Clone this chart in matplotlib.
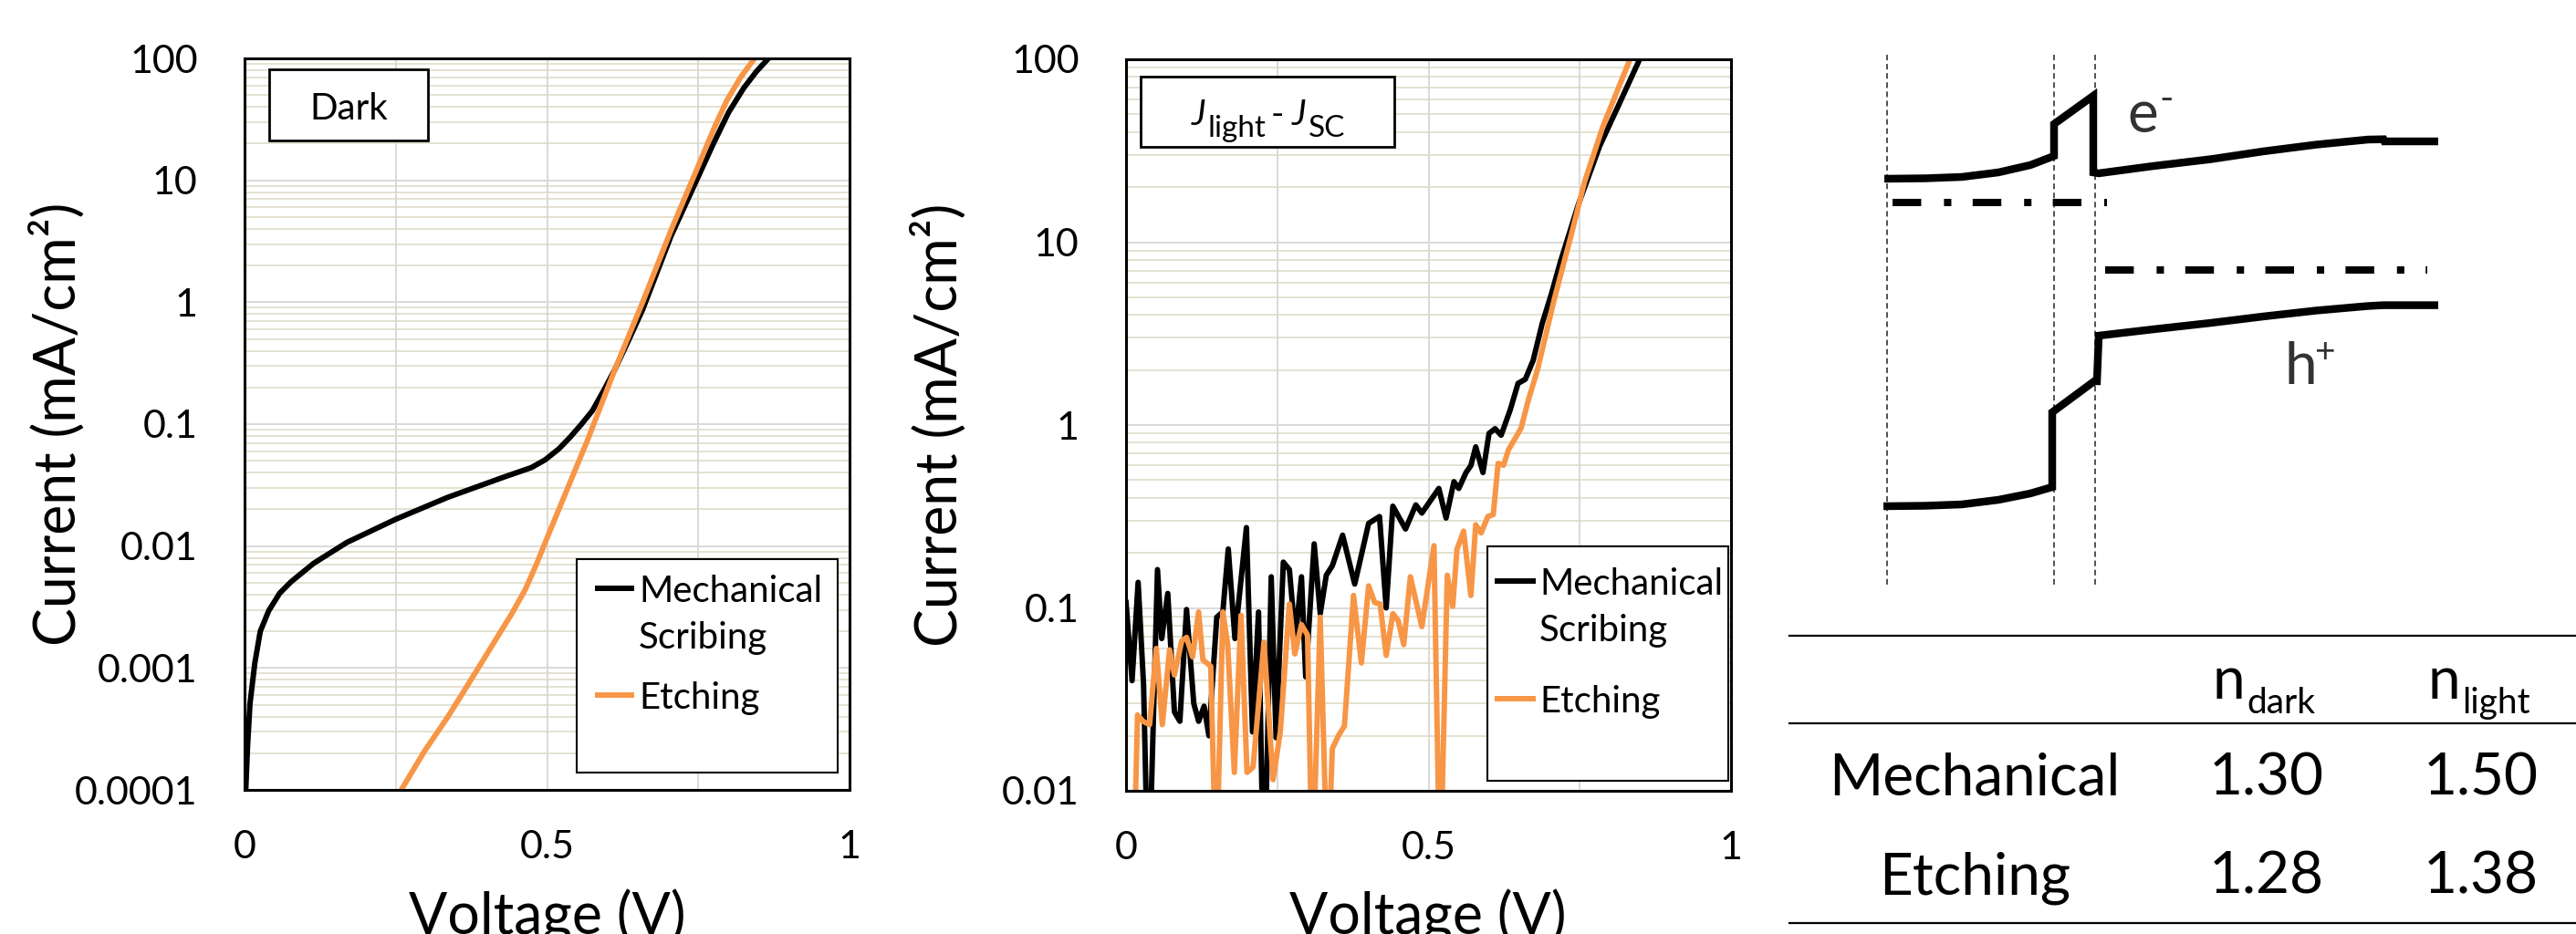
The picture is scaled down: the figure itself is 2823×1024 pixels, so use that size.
import numpy as np
import matplotlib
matplotlib.use('Agg')
import matplotlib.pyplot as plt
from matplotlib.patches import Rectangle
from matplotlib.ticker import LogLocator, NullFormatter

plt.rcParams['font.family'] = ['Lato', 'DejaVu Sans']

W, H = 2823, 1024
BLACK = '#000000'
ORANGE = '#F79646'

# ---- dark J-V, current density in mA/cm2 ----
v_dark_mech = [0.002, 0.005, 0.009, 0.017, 0.026, 0.040, 0.058, 0.077, 0.114, 0.169, 0.250,
               0.335, 0.430, 0.474, 0.497, 0.520, 0.538, 0.557, 0.575, 0.594, 0.612, 0.635,
               0.658, 0.705, 0.751, 0.775, 0.800, 0.825, 0.846, 0.866]
j_dark_mech = [1.0e-4, 2.3e-4, 5.1e-4, 1.1e-3, 2.0e-3, 2.95e-3, 4.1e-3, 5.1e-3, 7.2e-3, 1.07e-2, 1.66e-2,
               2.5e-2, 3.7e-2, 4.4e-2, 5.1e-2, 6.3e-2, 7.8e-2, 0.10, 0.129, 0.19, 0.28, 0.49,
               0.87, 3.5, 11.0, 20.0, 36.0, 57.0, 78.0, 100.0]

v_dark_etch = [0.259, 0.298, 0.335, 0.363, 0.390, 0.418, 0.441, 0.464, 0.483, 0.497, 0.529,
               0.566, 0.612, 0.658, 0.705, 0.751, 0.775, 0.797, 0.820, 0.843]
j_dark_etch = [1.0e-4, 2.1e-4, 3.9e-4, 6.5e-4, 1.07e-3, 1.8e-3, 2.75e-3, 4.4e-3, 7.2e-3, 1.07e-2, 2.6e-2,
               7.2e-2, 0.28, 1.0, 3.9, 13.5, 26.0, 45.0, 70.0, 100.0]

# ---- J_light - J_SC ----
v_light_mech = [0.000, 0.010, 0.020, 0.029, 0.037, 0.052, 0.059, 0.069, 0.080, 0.089, 0.100,
                0.112, 0.120, 0.129, 0.137, 0.150, 0.160, 0.169, 0.180, 0.199, 0.209, 0.219,
                0.228, 0.240, 0.248, 0.260, 0.270, 0.280, 0.290, 0.297, 0.311, 0.321, 0.331,
                0.341, 0.358, 0.378, 0.401, 0.419, 0.430, 0.441, 0.462, 0.479, 0.489, 0.517,
                0.529, 0.542, 0.550, 0.562, 0.570, 0.578, 0.590, 0.600, 0.610, 0.620, 0.635,
                0.648, 0.660, 0.673, 0.688, 0.703, 0.718, 0.748, 0.783, 0.813, 0.849]
j_light_mech = [0.107, 0.040, 0.138, 0.038, 0.0025, 0.162, 0.068, 0.12, 0.027, 0.024, 0.098,
                0.030, 0.024, 0.029, 0.020, 0.089, 0.095, 0.21, 0.068, 0.275, 0.021, 0.095,
                0.0025, 0.148, 0.0195, 0.178, 0.162, 0.068, 0.148, 0.042, 0.224, 0.093, 0.151,
                0.17, 0.25, 0.135, 0.29, 0.316, 0.10, 0.36, 0.27, 0.366, 0.33, 0.45,
                0.31, 0.49, 0.45, 0.55, 0.60, 0.76, 0.55, 0.90, 0.955, 0.88, 1.21,
                1.69, 1.78, 2.26, 3.6, 5.2, 7.8, 16.2, 33.6, 55.0, 100.0]

v_light_etch = [0.012, 0.019, 0.028, 0.039, 0.050, 0.060, 0.072, 0.080, 0.092, 0.100, 0.110,
                0.120, 0.127, 0.140, 0.149, 0.160, 0.168, 0.179, 0.190, 0.200, 0.210, 0.228,
                0.243, 0.255, 0.270, 0.279, 0.290, 0.300, 0.308, 0.321, 0.333, 0.341, 0.351,
                0.361, 0.376, 0.389, 0.401, 0.411, 0.420, 0.430, 0.441, 0.450, 0.459, 0.470,
                0.489, 0.509, 0.519, 0.531, 0.540, 0.547, 0.558, 0.570, 0.578, 0.587, 0.598,
                0.607, 0.615, 0.624, 0.632, 0.642, 0.653, 0.665, 0.680, 0.708, 0.736, 0.758,
                0.788, 0.833]
j_light_etch = [0.003, 0.026, 0.024, 0.023, 0.060, 0.023, 0.059, 0.043, 0.066, 0.069, 0.054,
                0.095, 0.052, 0.048, 0.0032, 0.095, 0.063, 0.0126, 0.091, 0.0126, 0.0135, 0.065,
                0.0115, 0.021, 0.105, 0.056, 0.081, 0.071, 0.0032, 0.089, 0.0032, 0.017, 0.020,
                0.0226, 0.117, 0.050, 0.132, 0.107, 0.105, 0.055, 0.093, 0.085, 0.063, 0.148,
                0.079, 0.219, 0.0028, 0.151, 0.102, 0.209, 0.263, 0.117, 0.285, 0.257, 0.316,
                0.324, 0.617, 0.603, 0.731, 0.832, 0.962, 1.37, 2.0, 4.9, 11.0, 21.4,
                42.7, 100.0]

series_labels = [['Mechanical', 'Scribing'], ['Etching']]

# ---- table of ideality factors ----
table_rows = ['Mechanical', 'Etching']
n_dark = ['1.30', '1.28']
n_light = ['1.50', '1.38']

# ---- band diagram sketch (pixel geometry of the schematic) ----
cb_x = [2065, 2110, 2150, 2190, 2225, 2251, 2251, 2294, 2294, 2300, 2360, 2423, 2480, 2538, 2595, 2612, 2613, 2672]
cb_y = [196, 195.5, 194, 189, 181, 171, 136, 105, 189, 190, 182, 174.5, 166, 158.6, 153, 152.7, 155, 155]
vb_x = [2064, 2110, 2150, 2190, 2225, 2249, 2249, 2295, 2298, 2300, 2360, 2423, 2480, 2538, 2595, 2612, 2613, 2672]
vb_y = [555, 554.5, 553, 548, 541, 534, 452, 418, 418, 368, 361, 354, 347, 340.5, 335.5, 334.6, 334.6, 334.6]
interface_x = [2068, 2251, 2296]
fermi_left = ([2074, 2309], 222)
fermi_right = ([2307, 2660], 296)

LW = 4.3


def px_axes(left, top, right, bottom):
    return fig.add_axes([left / W, 1 - bottom / H, (right - left) / W, (bottom - top) / H])


def style_jv(ax, ymin, yticks, ylabels):
    ax.set_yscale('log')
    ax.set_xlim(0, 1)
    ax.set_ylim(ymin, 100)
    ax.set_xticks([0, 0.5, 1])
    ax.set_xticklabels(['0', '0.5', '1'])
    ax.set_xticks([0.25, 0.75], minor=True)
    ax.set_yticks(yticks)
    ax.set_yticklabels(ylabels)
    ax.yaxis.set_minor_locator(LogLocator(base=10, subs=np.arange(2, 10), numticks=60))
    ax.yaxis.set_minor_formatter(NullFormatter())
    ax.grid(True, which='major', color='#d9d9d9', lw=1.4)
    ax.grid(True, which='minor', axis='x', color='#d9d9d9', lw=1.4)
    ax.grid(True, which='minor', axis='y', color='#ddd9c3', lw=1.1)
    ax.set_axisbelow(True)
    ax.tick_params(which='both', length=0, labelsize=31)
    ax.tick_params(axis='y', pad=37)
    ax.tick_params(axis='x', pad=32)
    for s in ax.spines.values():
        s.set_linewidth(2.2)


fig = plt.figure(figsize=(W / 100, H / 100), dpi=100)

ax1 = px_axes(268, 64, 931, 866)
ax1.plot(v_dark_mech, j_dark_mech, color=BLACK, lw=LW)
ax1.plot(v_dark_etch, j_dark_etch, color=ORANGE, lw=LW)
style_jv(ax1, 1e-4, [1e-4, 1e-3, 1e-2, 1e-1, 1, 10, 100],
         ['0.0001', '0.001', '0.01', '0.1', '1', '10', '100'])

ax2 = px_axes(1234, 65, 1897, 867)
ax2.plot(v_light_mech, j_light_mech, color=BLACK, lw=LW)
ax2.plot(v_light_etch, j_light_etch, color=ORANGE, lw=LW)
style_jv(ax2, 1e-2, [1e-2, 1e-1, 1, 10, 100], ['0.01', '0.1', '1', '10', '100'])

# overlay in pixel coordinates for boxes, labels, sketch and table
ov = fig.add_axes([0, 0, 1, 1])
ov.set_xlim(0, W)
ov.set_ylim(H, 0)
ov.axis('off')
ov.patch.set_alpha(0)

for xc, yc in [(83, 465), (1049, 466)]:
    ov.text(xc, yc, 'Current (mA/cm²)', rotation=90, rotation_mode='anchor',
            ha='center', va='baseline', fontsize=45)
for xc in [600, 1565]:
    ov.text(xc, 1025, 'Voltage (V)', ha='center', va='baseline', fontsize=45)

# panel tags
ov.add_patch(Rectangle((295, 76), 174, 78, fc='white', ec='black', lw=2.0))
ov.text(382, 131, 'Dark', ha='center', va='baseline', fontsize=29)
ov.add_patch(Rectangle((1250, 84), 278, 77, fc='white', ec='black', lw=2.0))
ov.text(1306, 137, 'J', ha='left', va='baseline', fontsize=28, style='italic')
ov.text(1323, 150, 'light', ha='left', va='baseline', fontsize=24)
ov.text(1400, 137, '-', ha='center', va='baseline', fontsize=28)
ov.text(1416, 137, 'J', ha='left', va='baseline', fontsize=28, style='italic')
ov.text(1434, 150, 'SC', ha='left', va='baseline', fontsize=24)

# legends
for (bx0, by0, bx1, by1, hx0, hx1, tx, ym, yb1, ye) in [
        (632, 613, 918, 847, 652, 695, 700, 645, 660, 762),
        (1630, 599, 1894, 856, 1638, 1683, 1687, 637, 652, 766)]:
    ov.add_patch(Rectangle((bx0, by0), bx1 - bx0, by1 - by0, fc='white', ec='black', lw=1.5))
    ov.plot([hx0, hx1], [ym, ym], color=BLACK, lw=LW, solid_capstyle='butt')
    ov.plot([hx0, hx1], [ye, ye], color=ORANGE, lw=LW, solid_capstyle='butt')
    ov.text(tx, yb1, series_labels[0][0], ha='left', va='baseline', fontsize=29)
    ov.text(tx, yb1 + 51, series_labels[0][1], ha='left', va='baseline', fontsize=29)
    ov.text(tx, ye + 15, series_labels[1][0], ha='left', va='baseline', fontsize=29)

# band diagram
for x in interface_x:
    ov.plot([x, x], [60, 643], color='#222222', lw=1.1, ls=(0, (4, 2.6)))
ov.plot(cb_x, cb_y, color=BLACK, lw=6.1, solid_joinstyle='miter', solid_capstyle='butt')
ov.plot(vb_x, vb_y, color=BLACK, lw=6.1, solid_joinstyle='miter', solid_capstyle='butt')
for xs, y in [fermi_left, fermi_right]:
    ov.plot(xs, [y, y], color=BLACK, lw=5.8, ls=(0, (3.9, 3.1, 1.0, 2.9)), dash_capstyle='butt')
ov.text(2331, 145, 'e', ha='left', va='baseline', fontsize=46, color='#333333')
ov.text(2374, 109, '-', ha='center', va='center', fontsize=30, color='#333333')
ov.text(2504, 421, 'h', ha='left', va='baseline', fontsize=46, color='#333333')
ov.text(2548, 386, '+', ha='center', va='center', fontsize=28, color='#333333')

# table
for y in [697, 793, 1012]:
    ov.plot([1961, W], [y, y], color=BLACK, lw=1.6)
for xa, sub in [(2460, 'dark'), (2696, 'light')]:
    ov.text(xa, 766, 'n', ha='right', va='baseline', fontsize=46)
    ov.text(xa + 2, 782, sub, ha='left', va='baseline', fontsize=28)
for i, yb in enumerate([872, 980]):
    ov.text(2164, yb, table_rows[i], ha='center', va='baseline', fontsize=46)
    ov.text(2484, yb, n_dark[i], ha='center', va='baseline', fontsize=46)
    ov.text(2719, yb, n_light[i], ha='center', va='baseline', fontsize=46)

plt.savefig('out.png', dpi=100)
